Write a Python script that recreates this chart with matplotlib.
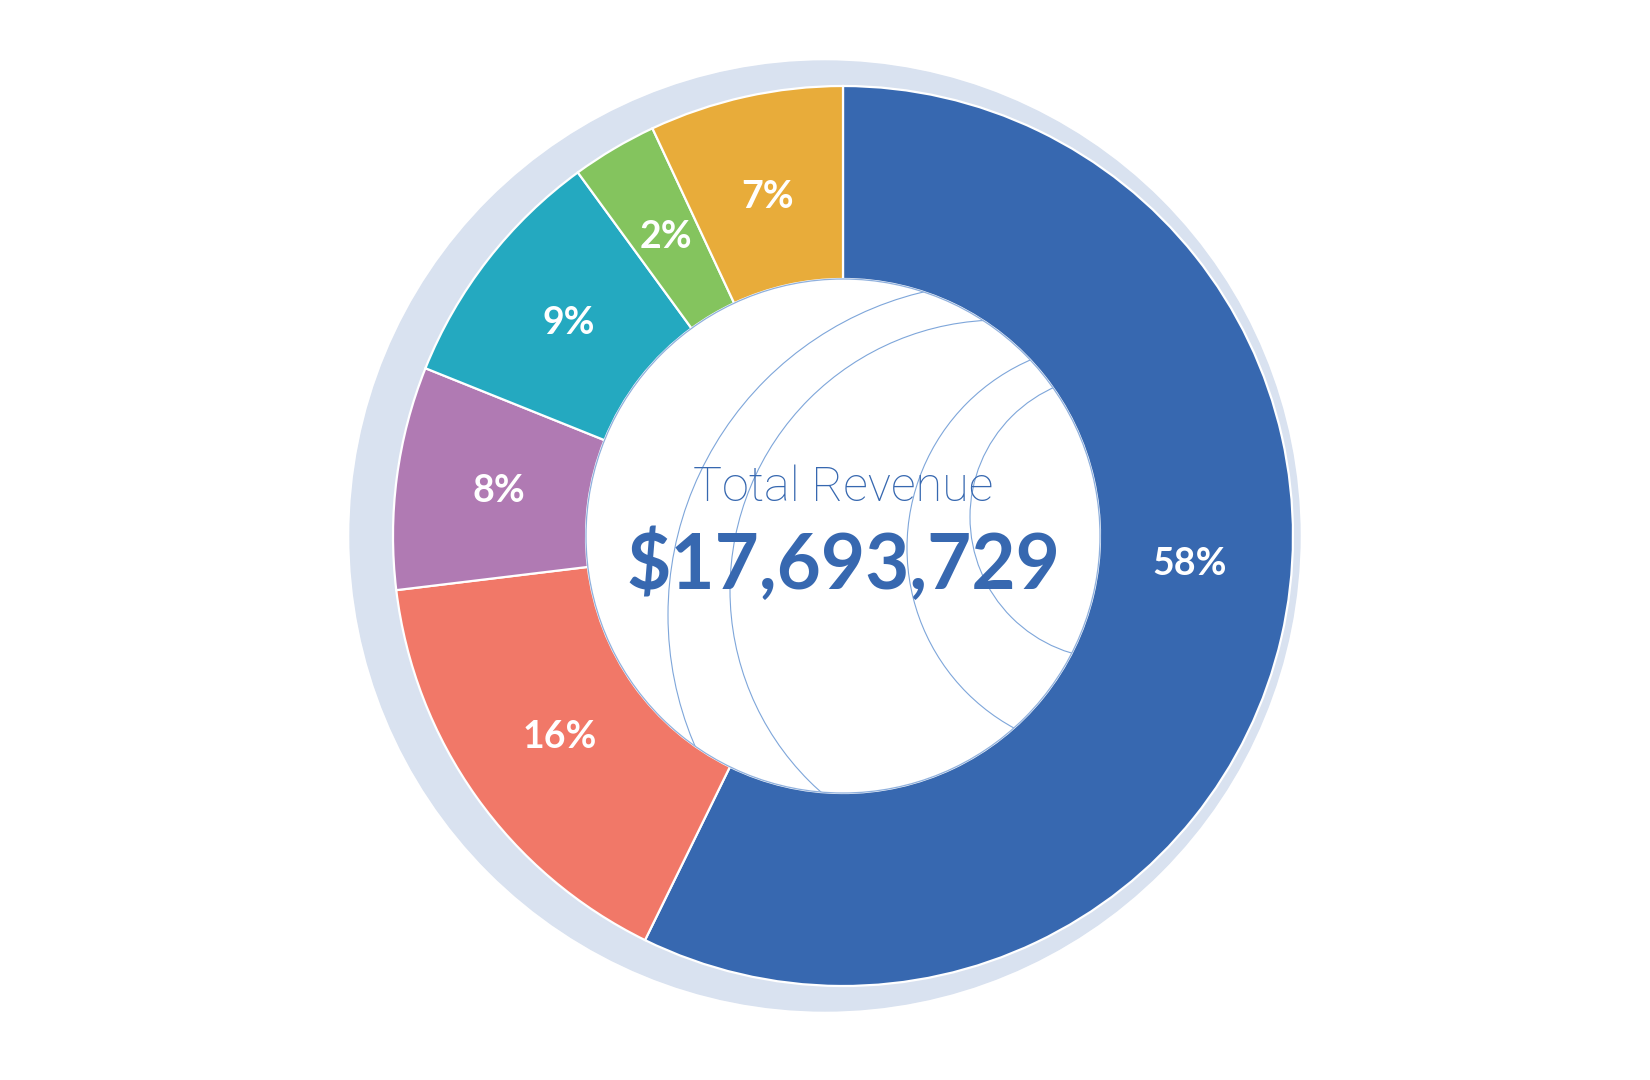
import matplotlib
matplotlib.use("Agg")
import matplotlib.pyplot as plt
from matplotlib.patches import Circle
import numpy as np

# revenue by segment (clockwise from 12 o'clock)
segments = ["Segment A", "Segment B", "Segment C", "Segment D", "Segment E", "Segment F"]
revenue = [10129660, 2800900, 1415500, 1573000, 543200, 1231469]
pct_labels = ["58%", "16%", "8%", "9%", "2%", "7%"]
colors = ["#3768b0", "#f17868", "#b07ab3", "#24a9c0", "#84c45e", "#e8ac3a"]

total = sum(revenue)

W, H = 1650, 1080
fig = plt.figure(figsize=(W / 100, H / 100), dpi=100)
ax = fig.add_axes([0, 0, 1, 1])

cx, cy = 843, H - 536
r_out, r_in = 450, 257

# pale backdrop disc
ax.add_patch(Circle((825, H - 536), 475, color="#d9e2f0", zorder=0))

wedges, _ = ax.pie(revenue, colors=colors, startangle=90, counterclock=False,
                   center=(cx, cy), radius=r_out,
                   wedgeprops=dict(width=r_out - r_in, edgecolor="white", linewidth=1.6))

# hole + decorative arcs
hole = Circle((cx, cy), r_in, facecolor="white", edgecolor="none", zorder=3)
ax.add_patch(hole)
for (ax_x, ax_y, rad) in [(1000, H - 615, 332), (1000, H - 590, 270),
                          (1112, H - 548, 205), (1112, H - 517, 142)]:
    c = Circle((ax_x, ax_y), rad, fill=False, edgecolor="#7ea6da", linewidth=0.8, zorder=4)
    ax.add_patch(c)
    c.set_clip_path(hole)
ax.add_patch(Circle((cx, cy), r_in, fill=False, edgecolor="#8fb0dd", linewidth=0.9, zorder=5))

# slice labels at mid radius
label_shift = {0: 8.5}  # big slice label sits nearer the 3 o'clock position
r_mid = (r_out + r_in) / 2 - 6
for i, w in enumerate(wedges):
    ang = (w.theta1 + w.theta2) / 2 + label_shift.get(i, 0)
    x = cx + r_mid * np.cos(np.radians(ang))
    y = cy + r_mid * np.sin(np.radians(ang))
    ax.text(x, y, pct_labels[i], color="white", fontsize=27, fontweight="bold",
            family=["Lato", "DejaVu Sans"], ha="center", va="center", zorder=6)

ax.text(cx, H - 488, "Total Revenue", color="#3768b0", fontsize=35, fontweight="light",
        family=["Roboto", "DejaVu Sans"], ha="center", va="center", zorder=6)
ax.text(cx, H - 565, "${:,}".format(total), color="#3768b0", fontsize=55, fontweight="bold",
        family=["Lato", "DejaVu Sans"], ha="center", va="center", zorder=6)

ax.set_xlim(0, W)
ax.set_ylim(0, H)
ax.set_aspect("equal")
ax.axis("off")

fig.savefig("out.png", dpi=100, facecolor="white")
